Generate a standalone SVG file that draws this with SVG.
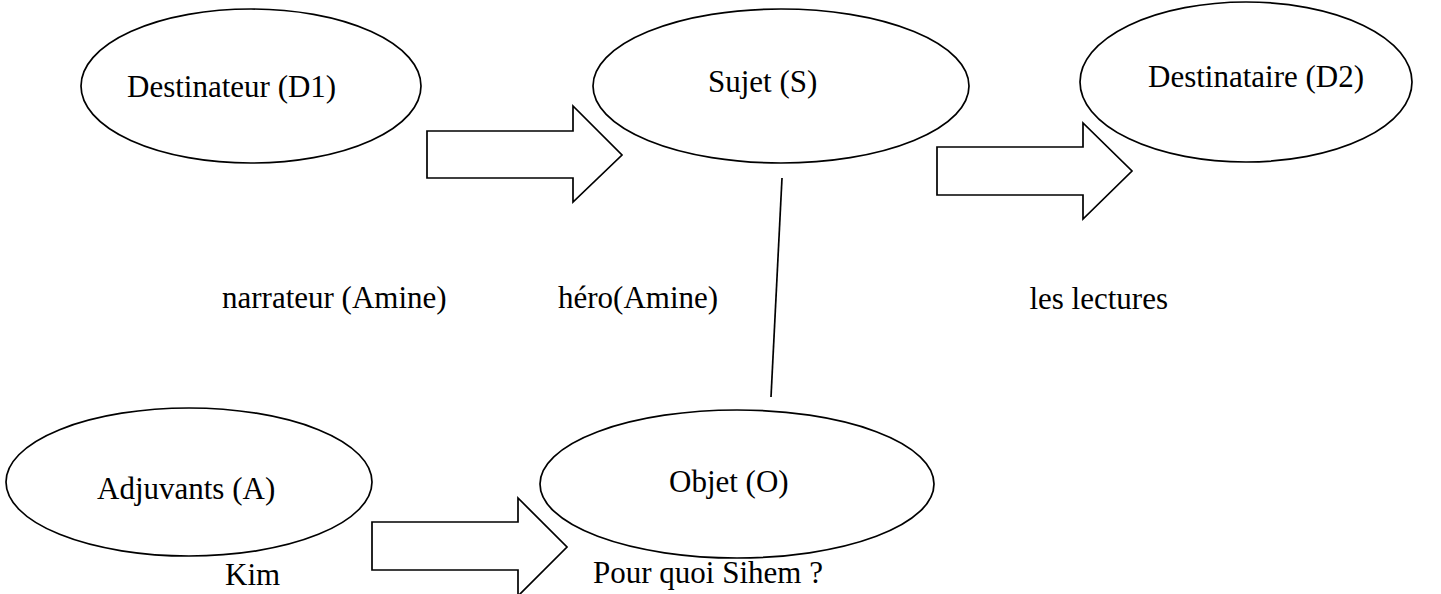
<svg xmlns="http://www.w3.org/2000/svg" width="1441" height="594" viewBox="0 0 1441 594">
<style>
.n{fill:#fff;stroke:#000;stroke-width:1.7}
.a{fill:#fff;stroke:#000;stroke-width:1.7;stroke-linejoin:miter}
.l{fill:none;stroke:#000;stroke-width:1.7}
text{font-family:"Liberation Serif","Times New Roman",serif;font-size:31px;fill:#000}
</style>
<rect width="1441" height="594" fill="#fff"/>
<g id="connectors">
<polygon class="a" points="427,131 573,131 573,106 622,155 573,202 573,178 427,178"/>
<polygon class="a" points="937,147 1083,147 1083,123 1132,171 1083,219 1083,195 937,195"/>
<polygon class="a" points="372,522 518,522 518,498 567,547 518,596 518,570 372,570"/>
<line class="l" x1="782" y1="178" x2="771" y2="397"/>
</g>
<g id="d1"><ellipse class="n" cx="251" cy="86" rx="170" ry="77"/><text x="127" y="97">Destinateur (D1)</text></g>
<g id="s"><ellipse class="n" cx="781" cy="86" rx="188" ry="77"/><text x="708" y="92">Sujet (S)</text></g>
<g id="d2"><ellipse class="n" cx="1246" cy="82" rx="166" ry="80"/><text x="1148" y="87">Destinataire (D2)</text></g>
<g id="adj"><ellipse class="n" cx="189" cy="482" rx="183" ry="74"/><text x="97" y="499">Adjuvants (A)</text></g>
<g id="obj"><ellipse class="n" cx="737" cy="484" rx="197" ry="74"/><text x="669" y="492">Objet (O)</text></g>
<g id="labels">
<text x="222" y="308">narrateur (Amine)</text>
<text x="558" y="308">héro(Amine)</text>
<text x="1168" y="309" text-anchor="end">les lectures</text>
<text x="225" y="585">Kim</text>
<text x="593" y="583">Pour quoi Sihem ?</text>
</g>
</svg>
